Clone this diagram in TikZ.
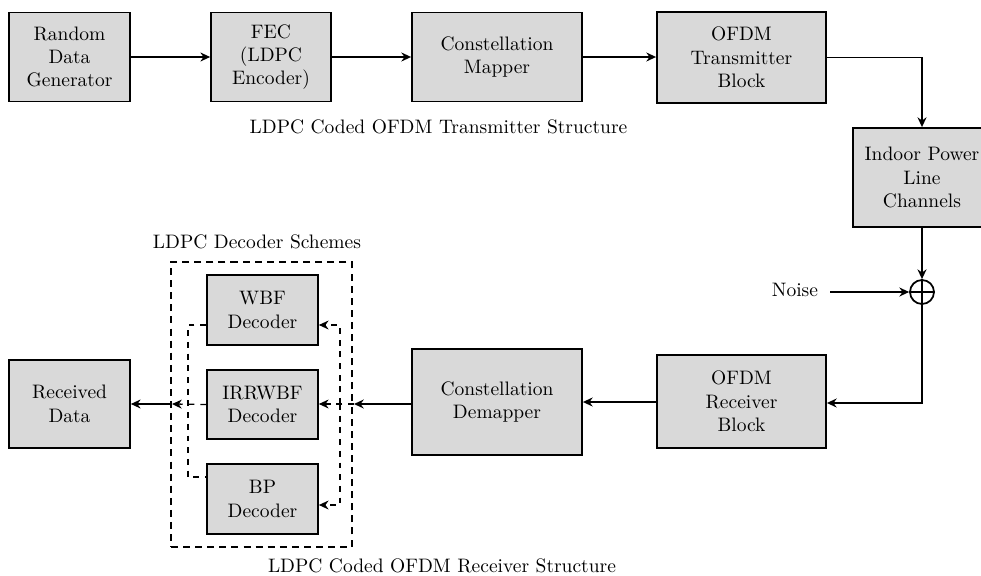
\documentclass[tikz,border=0pt]{standalone}
\usetikzlibrary{arrows.meta}
\begin{document}
\begin{tikzpicture}[x=0.5128pt,y=-0.5128pt,line width=0.9pt,
    >={Stealth[length=5pt,width=4.6pt]},
    block/.style={draw,fill=black!15,align=center,inner sep=1pt},
    bus/.style={dashed,line width=0.65pt},
    frame/.style={draw,line width=0.9pt,dash pattern=on 3.6pt off 2.6pt}]
    \clip (0,0) rectangle (981,575);

    % transmitter side
    \node[block,minimum width=62pt,minimum height=45.6pt] at (69.5,57) (rdg) {Random\\Data\\Generator};
    \node[block,minimum width=61.5pt,minimum height=45.6pt] at (271,57) (fec) {FEC\\(LDPC\\Encoder)};
    \node[block,minimum width=87.2pt,minimum height=45.6pt] at (497,57) (map) {Constellation\\Mapper};
    \node[block,minimum width=86.7pt,minimum height=46.7pt] at (741.5,57.5) (otx) {OFDM\\Transmitter\\Block};
    \node at (438.5,127) (txlbl) {LDPC Coded OFDM Transmitter Structure};

    % channel
    \node[block,minimum width=70.8pt,minimum height=50.8pt] at (922,177.5) (ipl) {Indoor Power\\Line\\Channels};
    \node[draw,circle,minimum size=12.3pt,inner sep=0pt] at (922,292) (add) {};
    \draw (add.north) -- (add.south) (add.west) -- (add.east);
    \node at (795,290) (noise) {Noise};

    % receiver side
    \node[block,minimum width=86.7pt,minimum height=47.7pt] at (741.5,401.5) (orx) {OFDM\\Receiver\\Block};
    \node[block,minimum width=87.2pt,minimum height=54.4pt] at (497,402) (dem) {Constellation\\Demapper};
    \node[frame,minimum width=92.8pt,minimum height=146.1pt] at (261.5,404.5) (dec) {};
    \node at (257,242) (declbl) {LDPC Decoder Schemes};
    \node[block,minimum width=56.9pt,minimum height=35.9pt] at (262.5,310) (wbf) {WBF\\Decoder};
    \node[block,minimum width=56.9pt,minimum height=35.4pt] at (262.5,404.5) (irr) {IRRWBF\\Decoder};
    \node[block,minimum width=56.9pt,minimum height=35.9pt] at (262.5,499) (bp) {BP\\Decoder};
    \node[block,minimum width=62pt,minimum height=45.1pt] at (69.5,404) (rcv) {Received\\Data};
    \node at (442,566) (rxlbl) {LDPC Coded OFDM Receiver Structure};

    \coordinate (din) at (354,404);
    \coordinate (rb1) at (340,325);
    \coordinate (rb3) at (340,505);
    \coordinate (lb1) at (188,325);
    \coordinate (lb3) at (188,477);
    \coordinate (dout) at (172,404);
    \coordinate (nin) at (830,292);

    \draw[->] (rdg) -- (fec);
    \draw[->] (fec) -- (map);
    \draw[->] (map) -- (map -| otx.west);
    \draw[->] (otx) -| (ipl);
    \draw[->] (ipl) -- (add);
    \draw[->] (nin) -- (add);
    \draw[->] (add) |- (orx.east |- 0,403);
    \draw[->] (orx.west |- 0,402) -- (dem.east |- 0,402);
    \draw[->] (dem.west |- din) -- (din);

    \draw[bus,->] (din) -- (irr.east |- din);
    \draw[bus,->] (rb1 |- din) -- (rb1) -- (wbf.east |- rb1);
    \draw[bus,->] (rb1 |- din) -- (rb3) -- (bp.east |- rb3);
    \draw[bus] (wbf.west |- lb1) -- (lb1) -- (lb3) -- (bp.west |- lb3);
    \draw[bus,->] (irr.west) -- (dout);
    \draw[->] (dout) -- (rcv);
\end{tikzpicture}
\end{document}
